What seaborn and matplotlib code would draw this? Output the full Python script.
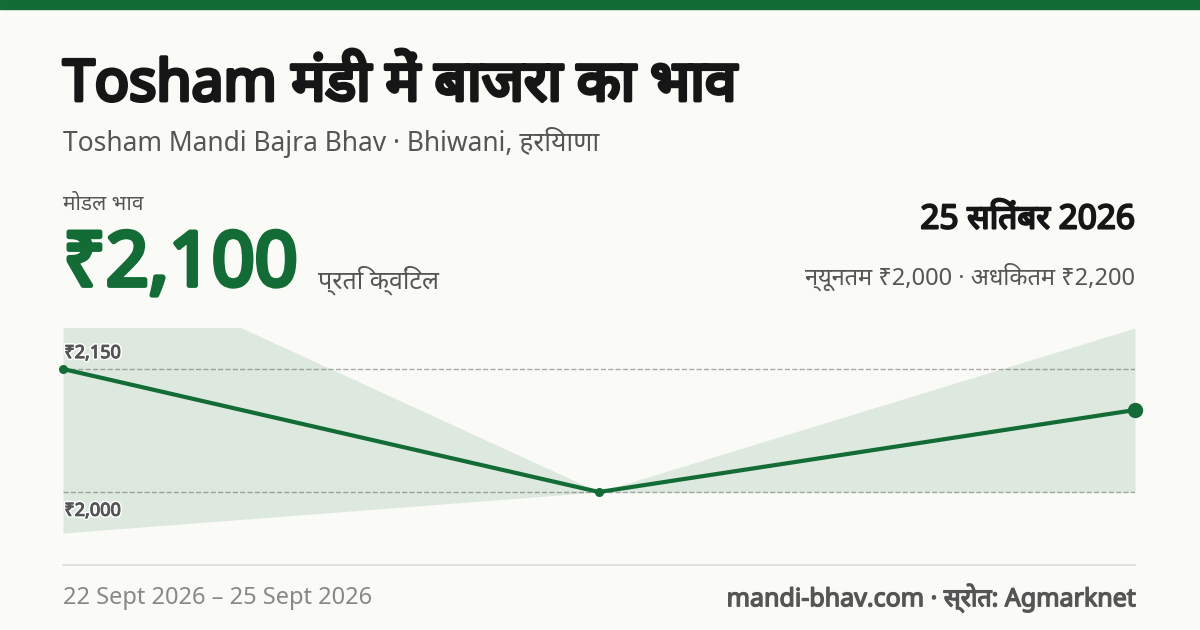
import matplotlib.pyplot as plt
import matplotlib.patheffects as pe
import seaborn as sns
import pandas as pd

sns.set_theme(style="white")
plt.rcParams['font.family'] = ['Noto Sans', 'DejaVu Sans']

# data
dates = ['22 Sept 2026', '23 Sept 2026', '25 Sept 2026']
modal = [2150, 2000, 2100]
min_price = [1950, 2000, 2000]
max_price = [2300, 2000, 2200]
tick_vals = [2000, 2150]
tick_labels = ['₹2,000', '₹2,150']

df = pd.DataFrame({'idx': range(len(dates)), 'modal': modal,
                   'lo': min_price, 'hi': max_price})

green = '#136b36'
bg = '#fafaf6'
fig = plt.figure(figsize=(12, 6.3), dpi=100, facecolor=bg)


def bold(w, c):
    # the installed font has no bold face, so thicken the strokes
    return [pe.withStroke(linewidth=w, foreground=c)]


fig.add_artist(plt.Rectangle((0, 1 - 9/630), 1, 9/630, transform=fig.transFigure,
                             color=green, zorder=5))

fig.text(63/1200, 1 - 86/630, 'Tosham मंडी में बाजरा का भाव', fontsize=41,
         color='#161616', va='center', path_effects=bold(2.8, '#161616'))
fig.text(63/1200, 1 - 142/630, 'Tosham Mandi Bajra Bhav · Bhiwani, हरियाणा',
         fontsize=19, color='#555555', va='center')
fig.text(63/1200, 1 - 204/630, 'मोडल भाव', fontsize=15, color='#555555', va='center')
fig.text(63/1200, 1 - 266/630, '₹2,100', fontsize=54,
         color=green, va='center', path_effects=bold(3.5, green))
fig.text(318/1200, 1 - 280/630, 'प्रति क्विंटल', fontsize=18, color='#555555', va='center')
fig.text(1135/1200, 1 - 220/630, '25 सितंबर 2026', fontsize=24,
         color='#161616', va='center', ha='right', path_effects=bold(1.5, '#161616'))
fig.text(1135/1200, 1 - 277/630, 'न्यूनतम ₹2,000 · अधिकतम ₹2,200', fontsize=17,
         color='#555555', va='center', ha='right')
fig.text(63/1200, 1 - 598/630, f'{dates[0]} – {dates[-1]}', fontsize=17,
         color='#888888', va='center')
fig.text(1135/1200, 1 - 598/630, 'mandi-bhav.com · स्रोत: Agmarknet', fontsize=18,
         color='#555555', va='center', ha='right', path_effects=bold(1.0, '#555555'))

ax = fig.add_axes([63/1200, 1 - 565/630, (1135 - 63)/1200, (565 - 328)/630])
ax.set_facecolor(bg)
ax.fill_between(df['idx'], df['lo'], df['hi'], color=green, alpha=0.12, lw=0)
sns.lineplot(data=df, x='idx', y='modal', ax=ax, color=green, lw=3)
ax.scatter(df['idx'][:-1], df['modal'][:-1], color=green, s=30, zorder=4, clip_on=False)
ax.scatter(df['idx'].iloc[-1:], df['modal'].iloc[-1:], color=green, s=100, zorder=4,
           clip_on=False)
for v, lab in zip(tick_vals, tick_labels):
    ax.axhline(v, color='#aaaaaa', ls='--', lw=1, zorder=0)
    off = 5 if v == max(tick_vals) else -20
    ax.annotate(lab, (0, v), xytext=(1, off), textcoords='offset points',
                fontsize=13, color='#555555', va='bottom',
                path_effects=[pe.withStroke(linewidth=3, foreground='white'),
                              pe.withStroke(linewidth=0.8, foreground='#555555')])
ax.set_xlim(0, len(dates) - 1)
ax.set_ylim(1911, 2200)
ax.set_xticks([]); ax.set_yticks([])
ax.set_xlabel(''); ax.set_ylabel('')
for s in ['top', 'left', 'right']:
    ax.spines[s].set_visible(False)
ax.spines['bottom'].set_color('#dddddd')

fig.savefig('out.png', dpi=100, facecolor=bg)
